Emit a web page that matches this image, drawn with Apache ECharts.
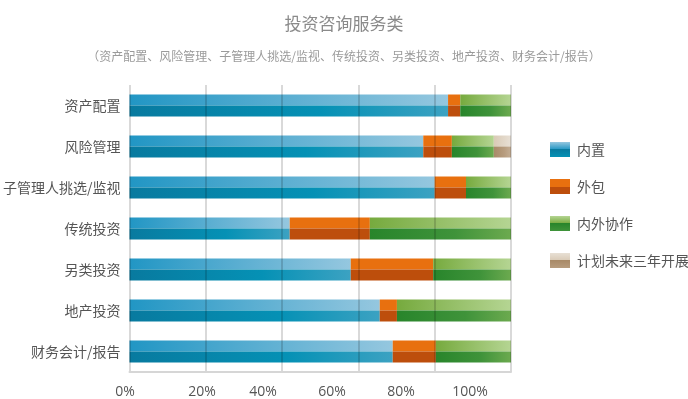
<!DOCTYPE html>
<html>
<head>
<meta charset="utf-8">
<title>投资咨询服务类</title>
<script src="https://cdn.jsdelivr.net/npm/echarts@6/dist/echarts.min.js"></script>
<style>
  html, body { margin: 0; padding: 0; background: #fff; }
  #main { width: 688px; height: 399px; }
</style>
</head>
<body>
<div id="main"></div>
<script>
var categories = ["资产配置", "风险管理", "子管理人挑选/监视", "传统投资", "另类投资", "地产投资", "财务会计/报告"];
var seriesNames = ["内置", "外包", "内外协作", "计划未来三年开展"];
var inhouse = [83.5, 77, 80, 42, 58, 65.6, 69];
var outsource = [3.2, 7.5, 8.2, 21, 21.6, 4.5, 11.3];
var cooperate = [13.3, 11, 11.8, 37, 20.4, 29.9, 19.7];
var planned = [0, 4.5, 0, 0, 0, 0, 0];
var xTicks = ["0%", "20%", "40%", "60%", "80%", "100%"];

(function () {
  var myChart = echarts.init(document.getElementById("main"));
  var G = echarts.graphic.LinearGradient;
  var values = [inhouse, outsource, cooperate, planned];

  // 每组颜色: 上半 [左, 右], 下半 [左, 中, 右]
  var palette = [
    { top: ["#2196c4", "#95c7df"], bottom: ["#087a9f", "#0591b5", "#3ca2c2"] },
    { top: ["#e8700f", "#e8700f"], bottom: ["#bd4e0c", "#bd4e0c", "#bd4e0c"] },
    { top: ["#76aa3e", "#b5d593"], bottom: ["#28852b", "#3f933a", "#6caa4f"] },
    { top: ["#d9cab6", "#e8e0d5"], bottom: ["#a88a68", "#b79c7e", "#c4ae95"] }
  ];

  var series = [];
  values.forEach(function (data, i) {
    var p = palette[i];
    // 上半条
    series.push({
      name: seriesNames[i],
      type: "bar",
      stack: "top",
      barWidth: 11,
      barGap: "0%",
      data: data,
      itemStyle: {
        color: new G(0, 0, 1, 0, [
          { offset: 0, color: p.top[0] },
          { offset: 1, color: p.top[1] }
        ])
      }
    });
    // 下半条
    series.push({
      name: seriesNames[i],
      type: "bar",
      stack: "bottom",
      barWidth: 11,
      barGap: "0%",
      data: data,
      itemStyle: {
        color: new G(0, 0, 1, 0, [
          { offset: 0, color: p.bottom[0] },
          { offset: 0.6, color: p.bottom[1] },
          { offset: 1, color: p.bottom[2] }
        ])
      }
    });
  });

  var legendData = seriesNames.map(function (n, i) {
    var p = palette[i];
    return {
      name: n,
      itemStyle: {
        color: new G(0, 0, 0, 1, [
          { offset: 0, color: p.top[1] },
          { offset: 0.5, color: p.top[0] },
          { offset: 0.5, color: p.bottom[0] },
          { offset: 1, color: p.bottom[1] }
        ])
      }
    };
  });

  var option = {
    animation: false,
    textStyle: { fontFamily: "Noto Sans CJK SC" },
    title: {
      text: "投资咨询服务类",
      subtext: "（资产配置、风险管理、子管理人挑选/监视、传统投资、另类投资、地产投资、财务会计/报告）",
      left: "center",
      top: 10,
      itemGap: 18,
      textStyle: { fontSize: 17, fontWeight: "normal", color: "#8a8a8a" },
      subtextStyle: { fontSize: 12, color: "#9a9a9a" }
    },
    legend: {
      orient: "vertical",
      left: 545,
      top: 137,
      itemWidth: 20,
      itemHeight: 15,
      itemGap: 22,
      icon: "rect",
      textStyle: { fontSize: 14, color: "#555", padding: [0, 0, 0, 2] },
      data: legendData
    },
    grid: [
      { left: 129, width: 382, top: 85, bottom: 27 },
      // 只用于放置横轴刻度文字
      { left: 125, width: 345, top: 85, bottom: 27 }
    ],
    xAxis: [
      {
        type: "value",
        min: 0,
        max: 100,
        interval: 20,
        z: 3,
        axisLabel: { show: false },
        axisTick: { show: false },
        axisLine: { show: true, lineStyle: { color: "#d6d6d6", width: 2 } },
        splitLine: { lineStyle: { color: "rgba(0,0,0,0.15)", width: 2 } }
      },
      {
        type: "value",
        gridIndex: 1,
        min: 0,
        max: 100,
        interval: 20,
        axisLine: { show: false },
        axisTick: { show: false },
        splitLine: { show: false },
        axisLabel: {
          margin: 14,
          color: "#555",
          fontSize: 14,
          fontFamily: "Open Sans",
          formatter: function (v) {
            var t = xTicks[v / 20];
            return v === 20 ? "{s|" + t + "}" : t;
          },
          rich: { s: { padding: [0, 0, 0, 16], fontSize: 14, color: "#555", fontFamily: "Open Sans" } }
        }
      }
    ],
    yAxis: [
      {
        type: "category",
        inverse: true,
        data: categories,
        axisLine: { show: false },
        axisTick: { show: false },
        axisLabel: { color: "#555", fontSize: 14, margin: 9 }
      },
      {
        type: "category",
        gridIndex: 1,
        inverse: true,
        data: categories,
        show: false
      }
    ],
    series: series
  };

  myChart.setOption(option);
  window.addEventListener("resize", function () {
    myChart.resize();
  });
})();
</script>
</body>
</html>
